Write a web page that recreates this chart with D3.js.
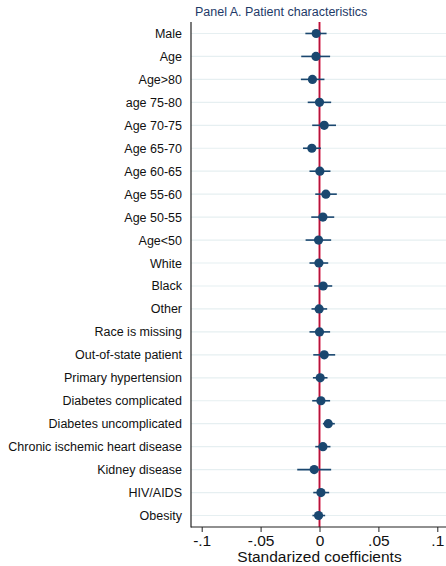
<!DOCTYPE html>
<html>
<head>
<meta charset="utf-8">
<script src="https://cdn.jsdelivr.net/npm/d3@7"></script>
<style>
  body { margin: 0; background: #fff; }
  svg { display: block; font-family: "Liberation Sans", Arial, sans-serif; }
</style>
</head>
<body>
<svg id="chart" width="446" height="566"></svg>
<script>
// variables, top to bottom
const labels = [
  "Male", "Age", "Age>80", "age 75-80", "Age 70-75", "Age 65-70", "Age 60-65",
  "Age 55-60", "Age 50-55", "Age<50", "White", "Black", "Other", "Race is missing",
  "Out-of-state patient", "Primary hypertension", "Diabetes complicated",
  "Diabetes uncomplicated", "Chronic ischemic heart disease", "Kidney disease",
  "HIV/AIDS", "Obesity"
];
const coef = [
  -0.0028, -0.003, -0.006, 0.0, 0.004, -0.0065, 0.0003,
  0.0054, 0.0029, -0.0008, -0.0005, 0.0031, -0.0003, 0.0,
  0.004, 0.0006, 0.0012, 0.0074, 0.0029, -0.0045, 0.0012, -0.0008
];
const ciLow = [
  -0.012, -0.0155, -0.0158, -0.010, -0.0062, -0.014, -0.0085,
  -0.0036, -0.007, -0.0118, -0.0085, -0.0045, -0.0068, -0.0085,
  -0.0053, -0.0056, -0.0062, 0.0029, -0.0036, -0.0189, -0.0053, -0.006
];
const ciHigh = [
  0.006, 0.009, 0.0042, 0.0099, 0.014, 0.0012, 0.0093,
  0.0147, 0.0125, 0.0099, 0.0074, 0.0108, 0.0065, 0.009,
  0.0133, 0.0068, 0.009, 0.013, 0.0093, 0.0099, 0.0082, 0.0048
];
const xTicks = [-0.1, -0.05, 0, 0.05, 0.1];
const tickText = ["-.1", "-.05", "0", ".05", ".1"];

const svg = d3.select("#chart");
const plotLeft = 191, plotTop = 22, plotBottom = 527;

const x = d3.scaleLinear().domain([-0.1, 0.1]).range([201.7, 437.3]);
const y = d3.scalePoint().domain(labels).range([plotTop, plotBottom]).padding(0.5);

const navy = "#1a476f";

// title
svg.append("text")
  .attr("x", 195).attr("y", 16)
  .attr("font-size", 12.5)
  .attr("fill", "#1e3a68")
  .text("Panel A. Patient characteristics");

// grid lines
svg.append("g").selectAll("line")
  .data(labels).join("line")
  .attr("x1", plotLeft).attr("x2", 446)
  .attr("y1", d => y(d)).attr("y2", d => y(d))
  .attr("stroke", "#e6eff1").attr("stroke-width", 1.2);

// zero line
svg.append("line")
  .attr("x1", x(0)).attr("x2", x(0)).attr("y1", plotTop).attr("y2", plotBottom)
  .attr("stroke", "#f2a7b8").attr("stroke-width", 3);
svg.append("line")
  .attr("x1", x(0)).attr("x2", x(0)).attr("y1", plotTop).attr("y2", plotBottom)
  .attr("stroke", "#b5123a").attr("stroke-width", 1.3);

// confidence intervals
svg.append("g").selectAll("line")
  .data(labels).join("line")
  .attr("x1", (d, i) => x(ciLow[i])).attr("x2", (d, i) => x(ciHigh[i]))
  .attr("y1", d => y(d)).attr("y2", d => y(d))
  .attr("stroke", navy).attr("stroke-width", 1.6);

// points
svg.append("g").selectAll("circle")
  .data(labels).join("circle")
  .attr("cx", (d, i) => x(coef[i])).attr("cy", d => y(d))
  .attr("r", 4.6).attr("fill", navy);

// y axis
const yAxis = svg.append("g")
  .attr("transform", `translate(${plotLeft},0)`)
  .call(d3.axisLeft(y).tickSize(0).tickPadding(9));
yAxis.select(".domain").remove();
yAxis.selectAll("text").attr("font-size", 12.5).attr("fill", "#111").attr("font-family", null);
svg.append("line")
  .attr("x1", plotLeft).attr("x2", plotLeft).attr("y1", plotTop).attr("y2", plotBottom + 0.5)
  .attr("stroke", "#222").attr("stroke-width", 1.2);

// x axis
const xAxis = svg.append("g")
  .attr("transform", `translate(0,${plotBottom})`)
  .call(d3.axisBottom(x).tickValues(xTicks).tickFormat((d, i) => tickText[i]).tickSize(5).tickPadding(3));
xAxis.select(".domain").remove();
xAxis.selectAll(".tick line").attr("stroke", "#222");
xAxis.selectAll("text").attr("font-size", 15.5).attr("fill", "#111").attr("font-family", null);
svg.append("line")
  .attr("x1", plotLeft).attr("x2", 446).attr("y1", plotBottom).attr("y2", plotBottom)
  .attr("stroke", "#222").attr("stroke-width", 1.2);

svg.append("text")
  .attr("x", x(0)).attr("y", 562)
  .attr("text-anchor", "middle")
  .attr("font-size", 15.5).attr("fill", "#111")
  .text("Standarized coefficients");
</script>
</body>
</html>
